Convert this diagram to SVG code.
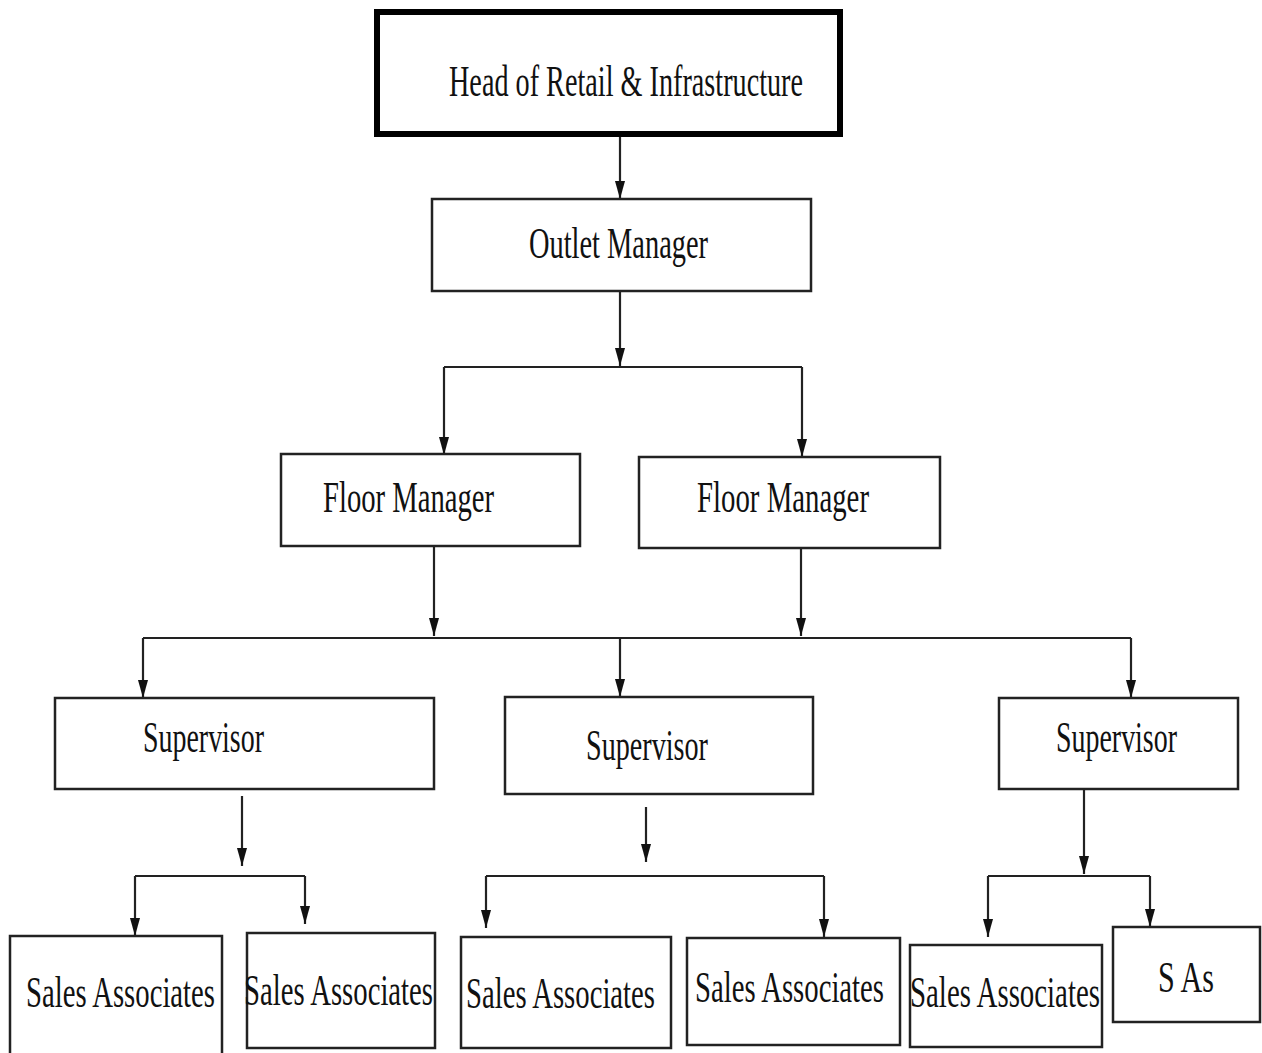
<svg xmlns="http://www.w3.org/2000/svg" width="1262" height="1053" viewBox="0 0 1262 1053">
<style>
.box{fill:#fff;stroke:#222;stroke-width:2.5}
.top{fill:#fff;stroke:#000;stroke-width:6}
.t{font-family:"Liberation Serif","Times New Roman",serif;font-size:44px;fill:#111}
.c{fill:none;stroke:#222;stroke-width:2.2}
.a{marker-end:url(#arr)}
</style>
<defs>
<marker id="arr" viewBox="0 -6 18 12" markerWidth="18" markerHeight="12" refX="18" refY="0" orient="auto" markerUnits="userSpaceOnUse">
<path d="M0,-5 L18,0 L0,5 z" fill="#111"/>
</marker>
</defs>
<rect width="1262" height="1053" fill="#fff"/>
<g id="connectors">
<path class="c a" d="M620,137 V199"/>
<path class="c a" d="M620,291 V366"/>
<path class="c" d="M444,367 H802"/>
<path class="c a" d="M444,367 V455"/>
<path class="c a" d="M802,367 V457"/>
<path class="c a" d="M434,546 V636"/>
<path class="c a" d="M801,548 V636"/>
<path class="c" d="M143,638 H1131"/>
<path class="c a" d="M143,638 V698"/>
<path class="c a" d="M620,638 V697"/>
<path class="c a" d="M1131,638 V698"/>
<path class="c a" d="M242,796 V866"/>
<path class="c" d="M135,876 H305"/>
<path class="c a" d="M135,876 V936"/>
<path class="c a" d="M305,876 V924"/>
<path class="c a" d="M646,807 V862"/>
<path class="c" d="M486,876 H824"/>
<path class="c a" d="M486,876 V928"/>
<path class="c a" d="M824,876 V937"/>
<path class="c a" d="M1084,789 V874"/>
<path class="c" d="M988,876 H1150"/>
<path class="c a" d="M988,876 V937"/>
<path class="c a" d="M1150,876 V927"/>
</g>
<g id="head"><rect class="top" x="377" y="12" width="463" height="122"/><text class="t" x="449" y="96" textLength="354" lengthAdjust="spacingAndGlyphs">Head of Retail &amp; Infrastructure</text></g>
<g id="outlet"><rect class="box" x="432" y="199" width="379" height="92"/><text class="t" x="529" y="258" textLength="179" lengthAdjust="spacingAndGlyphs">Outlet Manager</text></g>
<g id="fm1"><rect class="box" x="281" y="454" width="299" height="92"/><text class="t" x="323" y="512" textLength="171" lengthAdjust="spacingAndGlyphs">Floor Manager</text></g>
<g id="fm2"><rect class="box" x="639" y="457" width="301" height="91"/><text class="t" x="697" y="512" textLength="172" lengthAdjust="spacingAndGlyphs">Floor Manager</text></g>
<g id="sup1"><rect class="box" x="55" y="698" width="379" height="91"/><text class="t" x="143" y="752" textLength="121" lengthAdjust="spacingAndGlyphs">Supervisor</text></g>
<g id="sup2"><rect class="box" x="505" y="697" width="308" height="97"/><text class="t" x="586" y="760" textLength="122" lengthAdjust="spacingAndGlyphs">Supervisor</text></g>
<g id="sup3"><rect class="box" x="999" y="698" width="239" height="91"/><text class="t" x="1056" y="752" textLength="121" lengthAdjust="spacingAndGlyphs">Supervisor</text></g>
<g id="sa1"><rect class="box" x="10" y="936" width="212" height="130"/><text class="t" x="26" y="1007" textLength="189" lengthAdjust="spacingAndGlyphs">Sales Associates</text></g>
<g id="sa2"><rect class="box" x="247" y="933" width="188" height="115"/><text class="t" x="244" y="1005" textLength="189" lengthAdjust="spacingAndGlyphs">Sales Associates</text></g>
<g id="sa3"><rect class="box" x="461" y="937" width="210" height="111"/><text class="t" x="466" y="1008" textLength="189" lengthAdjust="spacingAndGlyphs">Sales Associates</text></g>
<g id="sa4"><rect class="box" x="687" y="938" width="213" height="107"/><text class="t" x="695" y="1002" textLength="189" lengthAdjust="spacingAndGlyphs">Sales Associates</text></g>
<g id="sa5"><rect class="box" x="910" y="945" width="192" height="102"/><text class="t" x="910" y="1007" textLength="190" lengthAdjust="spacingAndGlyphs">Sales Associates</text></g>
<g id="sas"><rect class="box" x="1113" y="927" width="147" height="95"/><text class="t" x="1158" y="992" textLength="56" lengthAdjust="spacingAndGlyphs">S As</text></g>
</svg>
